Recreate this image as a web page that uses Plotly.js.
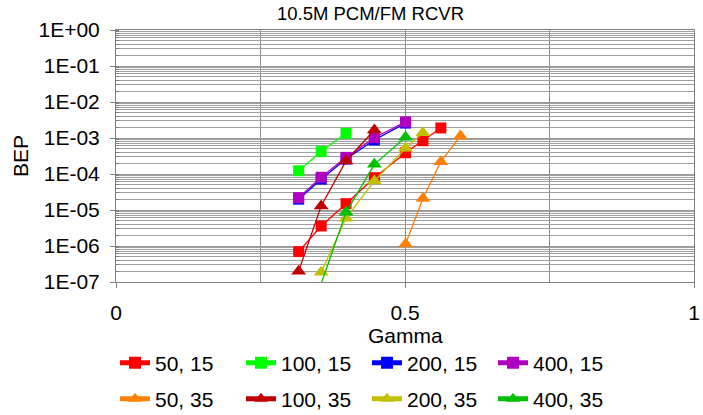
<!DOCTYPE html>
<html>
<head>
<meta charset="utf-8">
<script src="https://cdn.plot.ly/plotly-3.0.1.min.js"></script>
<style>html,body{margin:0;padding:0;background:#fff;}#chart{width:703px;height:415px;}</style>
</head>
<body>
<div id="chart"></div>
<script>
// Gamma values and BEP values
const x50_15  = [0.316, 0.355, 0.398, 0.447, 0.501, 0.531, 0.562];
const y50_15  = [7.0e-7, 3.6e-6, 1.5e-5, 7.9e-5, 3.9e-4, 8.4e-4, 1.9e-3];
const x100_15 = [0.316, 0.355, 0.398];
const y100_15 = [1.23e-4, 4.2e-4, 1.35e-3];
const x200_15 = [0.316, 0.355, 0.398, 0.447, 0.501];
const y200_15 = [2.0e-5, 7.2e-5, 2.6e-4, 8.8e-4, 2.6e-3];
const x400_15 = [0.316, 0.355, 0.398, 0.447, 0.501];
const y400_15 = [2.2e-5, 8.1e-5, 2.9e-4, 1.02e-3, 2.8e-3];
const x50_35  = [0.501, 0.531, 0.562, 0.596];
const y50_35  = [1.14e-6, 2.1e-5, 2.2e-4, 1.14e-3];
const x100_35 = [0.316, 0.355, 0.398, 0.447];
const y100_35 = [2.0e-7, 1.3e-5, 2.3e-4, 1.67e-3];
const x200_35 = [0.355, 0.398, 0.447, 0.501, 0.531];
const y200_35 = [1.86e-7, 5.9e-6, 6.4e-5, 5.2e-4, 1.4e-3];
const x400_35 = [0.355, 0.398, 0.447, 0.501];
const y400_35 = [9.0e-8, 8.6e-6, 1.86e-4, 1.05e-3];

const seriesNames = ['50, 15', '100, 15', '200, 15', '400, 15', '50, 35', '100, 35', '200, 35', '400, 35'];
const yTickVals = [1e0, 1e-1, 1e-2, 1e-3, 1e-4, 1e-5, 1e-6, 1e-7];
const yTickText = ['1E+00', '1E-01', '1E-02', '1E-03', '1E-04', '1E-05', '1E-06', '1E-07'];
const xTitle = 'Gamma';
const yTitle = 'BEP';
const chartTitle = '10.5M PCM/FM RCVR';

const FONT = 'Liberation Sans, Arial, sans-serif';
const Y_MIN = 1e-7;

function tr(x, y, name, color, symbol, size, legend) {
  // like the original spreadsheet chart, markers of off-scale points are not drawn
  const sizes = y.map(v => (v >= Y_MIN ? size : 0));
  return {
    x: x, y: y, name: name, type: 'scatter', mode: 'lines+markers',
    line: {color: color, width: 1.3},
    marker: {color: color, symbol: symbol, size: sizes, opacity: 1, line: {width: 0}},
    legend: legend, cliponaxis: true
  };
}

const data = [
  tr(x50_15,  y50_15,  seriesNames[0], '#FF0000', 'square', 11, 'legend'),
  tr(x100_15, y100_15, seriesNames[1], '#00FF00', 'square', 11, 'legend'),
  tr(x200_15, y200_15, seriesNames[2], '#0000FF', 'square', 11, 'legend'),
  tr(x400_15, y400_15, seriesNames[3], '#B000C0', 'square', 11, 'legend'),
  tr(x50_35,  y50_35,  seriesNames[4], '#FF8000', 'triangle-up', 13, 'legend2'),
  tr(x100_35, y100_35, seriesNames[5], '#C00000', 'triangle-up', 13, 'legend2'),
  tr(x200_35, y200_35, seriesNames[6], '#C0C000', 'triangle-up', 13, 'legend2'),
  tr(x400_35, y400_35, seriesNames[7], '#00C000', 'triangle-up', 13, 'legend2')
];

const legendCommon = {
  orientation: 'h', xref: 'container', yref: 'container',
  xanchor: 'left', yanchor: 'middle',
  font: {family: FONT, size: 21, color: '#000'},
  entrywidth: 81, entrywidthmode: 'pixels',
  bgcolor: 'rgba(0,0,0,0)', borderwidth: 0,
  itemsizing: 'constant',
  itemclick: false
};

const layout = {
  width: 703, height: 415,
  margin: {l: 116, r: 9, t: 30, b: 133, pad: 0, autoexpand: false},
  paper_bgcolor: '#fff', plot_bgcolor: '#fff',
  font: {family: FONT, color: '#000'},
  title: {
    text: chartTitle,
    font: {family: FONT, size: 18.5, color: '#000'},
    xref: 'container', x: 0.527, xanchor: 'center',
    yref: 'container', y: 1 - 14/415, yanchor: 'middle'
  },
  xaxis: {
    range: [0, 1], dtick: 0.5, tick0: 0,
    showgrid: true, gridcolor: '#8c8c8c', gridwidth: 1,
    minor: {dtick: 0.25, showgrid: true, gridcolor: '#8c8c8c', gridwidth: 1},
    ticks: 'outside', ticklen: 5, tickcolor: '#7f7f7f',
    showline: true, linecolor: '#7f7f7f', linewidth: 1, mirror: true,
    zeroline: false,
    tickfont: {family: FONT, size: 21, color: '#000'},
    ticklabelstandoff: 7
  },
  yaxis: {
    type: 'log', range: [-7, 0],
    tickvals: yTickVals, ticktext: yTickText,
    showgrid: true, gridcolor: '#999999', gridwidth: 1,
    minor: {dtick: 'D1', showgrid: true, gridcolor: '#a0a0a0', gridwidth: 1, ticks: 'inside', ticklen: 3, tickcolor: '#7f7f7f'},
    ticks: 'outside', ticklen: 5, tickcolor: '#7f7f7f',
    showline: true, linecolor: '#7f7f7f', linewidth: 1, mirror: true,
    zeroline: false, automargin: true,
    tickfont: {family: FONT, size: 21, color: '#000'},
    ticklabelstandoff: 6,
    title: {text: yTitle, font: {family: FONT, size: 21, color: '#000'}, standoff: 4}
  },
  annotations: [{
    text: xTitle, showarrow: false,
    xref: 'paper', x: 0.5, xanchor: 'center',
    yref: 'paper', y: -53/252, yanchor: 'middle',
    font: {family: FONT, size: 21, color: '#000'}
  }],
  showlegend: true,
  legend: Object.assign({}, legendCommon, {x: 115/703, y: 1 - 363/415}),
  legend2: Object.assign({}, legendCommon, {x: 115/703, y: 1 - 399/415})
};

Plotly.newPlot('chart', data, layout, {displayModeBar: false, staticPlot: true});
</script>
</body>
</html>
